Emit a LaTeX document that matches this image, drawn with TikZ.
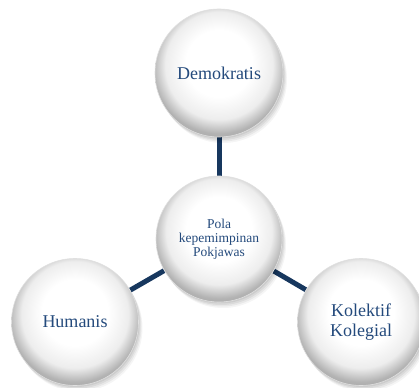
\documentclass[tikz,border=0pt]{standalone}
\usepackage{fontspec}
\setmainfont{Liberation Serif}
\usetikzlibrary{backgrounds}
\definecolor{navy}{HTML}{17375E}
\definecolor{txt}{HTML}{244A7C}
\pgfdeclareradialshading{bubble}{\pgfpoint{0bp}{5bp}}{%
  color(0bp)=(white); color(13bp)=(white); color(21bp)=(black!7);
  color(26bp)=(black!30); color(30bp)=(black!35); color(50bp)=(black!35)}
\tikzset{
  bub/.style={circle, minimum size=128pt, inner sep=0pt, shading=bubble,
    draw=black!12, line width=0.6pt, text=txt, align=center,
    preaction={fill=black, fill opacity=0.06, transform canvas={xshift=1pt, yshift=-1.5pt}},
    preaction={fill=black, fill opacity=0.06, transform canvas={xshift=2pt, yshift=-3pt}},
    preaction={fill=black, fill opacity=0.05, transform canvas={xshift=3pt, yshift=-4.5pt}},
    preaction={fill=black, fill opacity=0.04, transform canvas={xshift=4pt, yshift=-6pt}}},
  big/.style={font=\fontsize{18}{20}\selectfont},
  small/.style={font=\fontsize{13.5}{14}\selectfont},
  conn/.style={draw=navy, line width=5pt}
}
\begin{document}
\begin{tikzpicture}[x=1pt,y=-1pt]
\useasboundingbox (0,0) rectangle (419,387);
\node[bub, big] (t) at (219,73) {Demokratis};
\node[bub, small, minimum size=126pt] (c) at (219,239) {Pola\\kepemimpinan\\Pokjawas};
\node[bub, big, minimum size=127pt] (l) at (75,322) {Humanis};
\node[bub, big, minimum size=127pt] (r) at (361,322) {Kolektif\\Kolegial};
\begin{scope}[on background layer]
\fill[white] (0,0) rectangle (419,387);
\draw[conn] (c) -- (t);
\draw[conn] (c) -- (l);
\draw[conn] (c) -- (r);
\end{scope}
\end{tikzpicture}
\end{document}
